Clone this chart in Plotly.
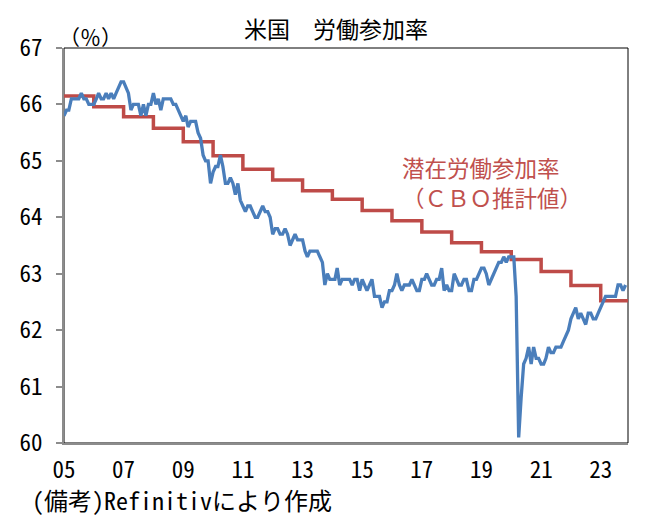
import pandas as pd
import plotly.graph_objects as go

# 米国 労働参加率（月次, %）2005年1月〜2023年11月
lfpr_2005 = [65.8, 65.9, 65.9, 66.1, 66.1, 66.1, 66.1, 66.2, 66.1, 66.1, 66.0, 66.0]
lfpr_2006 = [66.0, 66.1, 66.2, 66.1, 66.1, 66.2, 66.1, 66.2, 66.1, 66.2, 66.3, 66.4]
lfpr_2007 = [66.4, 66.3, 66.2, 65.9, 66.0, 66.0, 66.0, 65.8, 66.0, 65.8, 66.0, 66.0]
lfpr_2008 = [66.2, 66.0, 66.1, 65.9, 66.1, 66.1, 66.1, 66.1, 66.0, 66.0, 65.9, 65.8]
lfpr_2009 = [65.7, 65.8, 65.6, 65.7, 65.7, 65.7, 65.5, 65.4, 65.1, 65.0, 65.0, 64.6]
lfpr_2010 = [64.8, 64.9, 64.9, 65.1, 64.9, 64.6, 64.6, 64.7, 64.6, 64.4, 64.6, 64.3]
lfpr_2011 = [64.2, 64.1, 64.2, 64.2, 64.1, 64.0, 64.0, 64.1, 64.2, 64.1, 64.1, 64.0]
lfpr_2012 = [63.7, 63.8, 63.8, 63.7, 63.7, 63.8, 63.7, 63.5, 63.6, 63.7, 63.6, 63.6]
lfpr_2013 = [63.6, 63.4, 63.3, 63.4, 63.4, 63.4, 63.4, 63.3, 63.2, 62.8, 63.0, 62.9]
lfpr_2014 = [62.9, 62.9, 63.1, 62.8, 62.9, 62.9, 62.9, 62.9, 62.8, 62.9, 62.9, 62.7]
lfpr_2015 = [62.9, 62.8, 62.7, 62.8, 62.9, 62.6, 62.6, 62.6, 62.4, 62.5, 62.5, 62.7]
lfpr_2016 = [62.7, 62.8, 63.0, 62.8, 62.7, 62.8, 62.8, 62.8, 62.9, 62.8, 62.7, 62.7]
lfpr_2017 = [62.9, 62.9, 63.0, 62.9, 62.8, 62.8, 62.9, 62.9, 63.1, 62.7, 62.8, 62.7]
lfpr_2018 = [62.7, 63.0, 62.9, 62.8, 62.8, 62.9, 62.9, 62.7, 62.7, 62.9, 62.9, 63.0]
lfpr_2019 = [63.1, 63.1, 63.0, 62.8, 62.9, 63.0, 63.1, 63.2, 63.2, 63.3, 63.2, 63.3]
lfpr_2020 = [63.3, 63.3, 62.6, 60.1, 60.8, 61.4, 61.5, 61.7, 61.4, 61.7, 61.5, 61.5]
lfpr_2021 = [61.4, 61.4, 61.5, 61.7, 61.6, 61.6, 61.7, 61.7, 61.7, 61.8, 61.9, 62.0]
lfpr_2022 = [62.2, 62.3, 62.4, 62.2, 62.3, 62.2, 62.1, 62.3, 62.3, 62.2, 62.2, 62.3]
lfpr_2023 = [62.4, 62.5, 62.6, 62.6, 62.6, 62.6, 62.6, 62.8, 62.8, 62.7, 62.8]

lfpr = (lfpr_2005 + lfpr_2006 + lfpr_2007 + lfpr_2008 + lfpr_2009 + lfpr_2010
        + lfpr_2011 + lfpr_2012 + lfpr_2013 + lfpr_2014 + lfpr_2015 + lfpr_2016
        + lfpr_2017 + lfpr_2018 + lfpr_2019 + lfpr_2020 + lfpr_2021 + lfpr_2022
        + lfpr_2023)
lfpr_dates = pd.date_range("2005-01-01", periods=len(lfpr), freq="MS")

# 潜在労働参加率（CBO推計値, 年次, %）
cbo_years = list(range(2005, 2024))
cbo_potential = [66.15, 65.96, 65.78, 65.58, 65.34, 65.09, 64.85, 64.66, 64.47, 64.32,
                 64.12, 63.94, 63.74, 63.55, 63.39, 63.25, 63.04, 62.79, 62.52]
axis_end = "2023-12-01"

tick_years = [2005, 2007, 2009, 2011, 2013, 2015, 2017, 2019, 2021, 2023]
tick_labels = ["05", "07", "09", "11", "13", "15", "17", "19", "21", "23"]

JP_FONT = "Noto Sans Mono CJK JP, Noto Sans CJK JP, sans-serif"

cbo_x = [f"{y}-01-01" for y in cbo_years] + [axis_end]
cbo_y = cbo_potential + [cbo_potential[-1]]

fig = go.Figure()
fig.add_trace(go.Scatter(
    x=cbo_x, y=cbo_y, mode="lines", line=dict(color="#BE4B48", width=3.5, shape="hv"),
    name="潜在労働参加率", hoverinfo="skip",
))
fig.add_trace(go.Scatter(
    x=lfpr_dates, y=lfpr, mode="lines", line=dict(color="#4A7EBB", width=3.3),
    name="労働参加率",
))

fig.add_shape(type="rect", xref="paper", yref="paper", x0=0, y0=0, x1=1, y1=1,
              line=dict(color="black", width=1), layer="below")

# page has an 8px body margin, so the figure is sized to fit the window
fig.update_layout(
    width=658,
    height=524,
    margin=dict(l=56, r=38, t=40, b=89),
    paper_bgcolor="white",
    plot_bgcolor="white",
    showlegend=False,
    font=dict(family=JP_FONT, color="black"),
    title=dict(text="米国　労働参加率", x=(336 - 64) / 564, xref="paper", xanchor="center",
               yref="container", y=1 - 22 / 524, yanchor="middle",
               font=dict(size=23, family=JP_FONT)),
    xaxis=dict(
        type="date",
        range=["2005-01-01", axis_end],
        tickvals=[f"{y}-01-01" for y in tick_years],
        ticktext=tick_labels,
        ticks="",
        ticklabelstandoff=5,
        showgrid=False,
        zeroline=False,
        showline=True,
        linecolor="#8C8C8C",
        linewidth=2,
        tickfont=dict(size=23, family=JP_FONT),
    ),
    yaxis=dict(
        range=[60, 67],
        dtick=1,
        ticks="outside",
        ticklen=6,
        tickwidth=2,
        tickcolor="#8C8C8C",
        ticklabelstandoff=9,
        showgrid=False,
        zeroline=False,
        showline=True,
        linecolor="#8C8C8C",
        linewidth=2,
        tickfont=dict(size=23, family=JP_FONT),
    ),
)

fig.add_annotation(text="（％）", xref="paper", yref="paper", x=(57 - 64) / 564,
                   y=(443 - 36) / 395, xanchor="left", yanchor="middle", showarrow=False,
                   font=dict(size=21, family=JP_FONT))
fig.add_annotation(text="潜在労働参加率", xref="paper", yref="paper",
                   x=(400 - 64) / 564, y=(443 - 166.5) / 395, xanchor="left",
                   yanchor="middle", showarrow=False,
                   font=dict(size=22.5, color="#C0504D", family=JP_FONT))
fig.add_annotation(text="（ＣＢＯ推計値）", xref="paper", yref="paper",
                   x=(400 - 64) / 564, y=(443 - 197) / 395, xanchor="left",
                   yanchor="middle", showarrow=False,
                   font=dict(size=22.5, color="#C0504D", family=JP_FONT))
fig.add_annotation(text="(備考)Refinitivにより作成", xref="paper", yref="paper",
                   x=(30 - 64) / 564, y=(443 - 500) / 395, xanchor="left", yanchor="middle",
                   showarrow=False, font=dict(size=24, family=JP_FONT))

fig.write_html("out.html")
